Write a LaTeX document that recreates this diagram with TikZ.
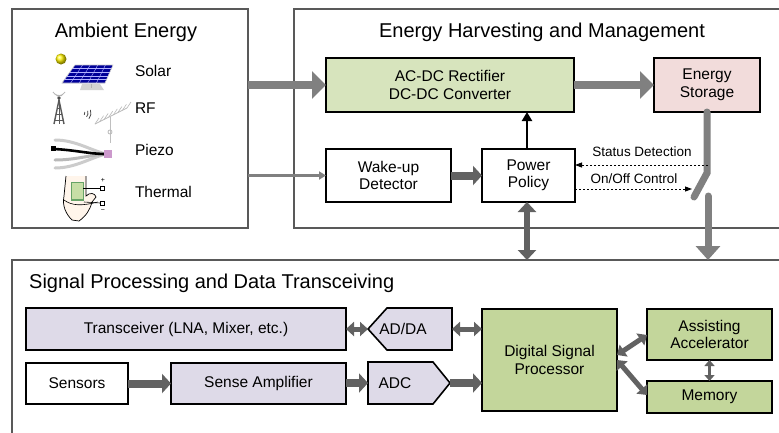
\documentclass[tikz,border=0pt]{standalone}
\usepackage{fontspec}
\setmainfont{Liberation Sans}
\usetikzlibrary{arrows.meta,calc}
\definecolor{cont}{HTML}{595959}
\definecolor{lgray}{HTML}{808080}
\definecolor{dgray}{HTML}{626262}
\definecolor{gA}{HTML}{D7E4BD}
\definecolor{gB}{HTML}{C3D69B}
\definecolor{pinkS}{HTML}{F2DCDB}
\definecolor{purp}{HTML}{DEDAE8}
\tikzset{
  container/.style={draw=cont, line width=1.8pt, inner sep=0pt, outer sep=0pt},
  blk/.style={draw=black, line width=1.6pt, inner sep=0pt, outer sep=0pt, align=center, font=\fontsize{15.5}{17.5}\selectfont},
  plainlbl/.style={inner sep=0pt, outer sep=0pt, font=\fontsize{15.5}{17.5}\selectfont},
  title/.style={inner sep=0pt, font=\fontsize{20}{22}\selectfont},
  small/.style={inner sep=0pt, font=\fontsize{13.5}{15}\selectfont},
  bigarrow/.style={draw=lgray, line width=8pt, -{Triangle[length=14pt,width=27pt]}},
  midarrow/.style={draw=dgray, line width=8pt, -{Triangle[length=9pt,width=19pt]}},
  dblarrow/.style={draw=dgray, line width=5pt, {Triangle[length=8pt,width=14pt]}-{Triangle[length=8pt,width=14pt]}},
  dashline/.style={draw=black, line width=0.9pt, dashed, dash pattern=on 2pt off 2pt, -{Triangle[length=7pt,width=5pt]}},
}
\begin{document}
\begin{tikzpicture}[x=1pt,y=-1pt]
\useasboundingbox (0,0) rectangle (779,432);
\clip (0,0) rectangle (779,432);
\fill[white] (0,0) rectangle (779,432);

% containers
\node[container, minimum width=236, minimum height=219] (ambient) at (130,118.5) {};
\node[container, minimum width=516, minimum height=219] (harv) at (552,118.5) {};
\node[container, minimum width=798, minimum height=200] (sig) at (411,360) {};

% titles
\node[title] (tA) at (126,32) {Ambient Energy};
\node[title] (tH) at (542,32) {Energy Harvesting and Management};
\node[title, anchor=west] (tS) at (29,283) {Signal Processing and Data Transceiving};

% ambient labels
\node[plainlbl, anchor=west] (solar) at (135,71) {Solar};
\node[plainlbl, anchor=west] (rf) at (135,108) {RF};
\node[plainlbl, anchor=west] (piezo) at (135,150) {Piezo};
\node[plainlbl, anchor=west] (thermal) at (135,192) {Thermal};

% solar icon
\shade[ball color=yellow!90!orange] (61,59) circle (5.5);
\fill[gray!35] (82,84) -- (100,84) -- (104,90) -- (80,90) -- cycle;
\draw[gray!60, line width=1pt] (91,84) -- (91,88);
\fill[blue!60!black] (75,65) -- (113,65) -- (105,83) -- (62,83) -- cycle;
\foreach \t in {0.2,0.4,0.6,0.8}{
  \draw[blue!30, line width=0.4pt] ($(75,65)!\t!(113,65)$) -- ($(62,83)!\t!(105,83)$);
  \draw[blue!30, line width=0.4pt] ($(75,65)!\t!(62,83)$) -- ($(113,65)!\t!(105,83)$);
}
\draw[gray!40, line width=0.6pt] (75,65) -- (113,65) -- (105,83) -- (62,83) -- cycle;

% RF icon
\draw[gray!70!black, line width=1.4pt] (54,124) -- (59,100) -- (64,124);
\draw[gray!70!black, line width=0.8pt] (56,114) -- (62,114) (57,108) -- (61,108) (55,120) -- (63,120) (59,100) -- (59,124);
\fill[gray!60!black] (59,98) circle (1.8);
\draw[gray!60, line width=0.8pt] (55,94) arc (150:30:4.6) (53,92) arc (150:30:7);
\foreach \r in {3,6,9}{\draw[gray!60!black, line width=0.8pt] (82,113) ++(-20:\r) arc (-20:40:\r);}
\draw[gray!55, line width=0.8pt] (95,124) -- (127,108);
\foreach \i in {0,...,7}{\draw[gray!55, line width=0.6pt] ($(95,124)!\i/7!(127,108)$) -- ++(4,-6);}
\draw[gray!50, line width=1pt] (110,117) -- (110,143);
\draw[gray!55, line width=0.8pt] (110,132) circle (2);

% piezo icon
\draw[gray!40, line width=3pt, line cap=round] (55,140) .. controls (75,140) and (90,150) .. (106,154);
\draw[gray!40, line width=3pt, line cap=round] (55,168) .. controls (75,168) and (90,158) .. (106,154);
\draw[gray!55, line width=3pt, line cap=round] (55,160) .. controls (75,160) and (90,155) .. (106,154);
\draw[black, line width=2.6pt] (54,149) .. controls (75,150) and (90,154) .. (106,154);
\fill[black] (51,146) rectangle (56,151);
\fill[violet!40] (104,150) rectangle (112,158);

% thermal icon
\draw[black, line width=0.7pt, fill=orange!8] (66,176) -- (64,196) .. controls (62,206) and (66,214) .. (72,220) -- (79,221) .. controls (86,216) and (90,210) .. (92,202) -- (96,197) .. controls (95,193) and (90,192) .. (86,196) -- (86,176);
\draw[black, line width=0.6pt] (64,200) .. controls (72,206) and (82,206) .. (98,202);
\fill[green!40!black!60] (71,182) rectangle (84,201);
\fill[green!25!olive!35] (72,183) rectangle (83,199);
\draw[black, line width=0.6pt] (83,188) -- (100,188);
\draw[black, line width=0.6pt] (100,186) rectangle (104,190);
\draw[black, line width=0.6pt] (84,202) -- (100,203);
\draw[black, line width=0.6pt] (100,201) rectangle (104,205);
\node[inner sep=0pt, font=\fontsize{7}{7}\selectfont] (plus) at (103,180) {+};
\node[inner sep=0pt, font=\fontsize{7}{7}\selectfont] (minus) at (103,211) {\textminus};

% harvesting blocks
\node[blk, fill=gA, minimum width=248, minimum height=54] (acdc) at (450,85) {AC-DC Rectifier\\DC-DC Converter};
\node[blk, fill=pinkS, minimum width=106, minimum height=54] (stor) at (707,85) {Energy\\Storage};
\node[blk, fill=white, minimum width=125, minimum height=53] (wake) at (388.5,175.5) {Wake-up\\Detector};
\node[blk, fill=white, minimum width=93, minimum height=53] (pp) at (528.5,175.5) {Power\\Policy};

% harvesting connectors
\draw[bigarrow] (ambient.east |- acdc) -- (acdc.west);
\draw[bigarrow] (acdc.east) -- (stor.west);
\draw[draw=lgray, line width=2.6pt, -{Triangle[length=7pt,width=8pt]}] (ambient.east |- wake) -- (wake.west);
\draw[midarrow, draw=dgray] (wake.east) -- (pp.west);
\coordinate (ppn) at ($(pp.north)+(-1.5,0)$);
\draw[draw=black, line width=2.6pt, -{Triangle[length=9pt,width=10pt]}] (ppn) -- (ppn |- acdc.south);
\coordinate (ppd) at ($(pp.south)+(-1.5,0)$);
\draw[draw=dgray, line width=6.5pt, {Triangle[length=10pt,width=18pt]}-{Triangle[length=10pt,width=18pt]}] (ppd) -- (ppd |- sig.north);

% storage switch
\coordinate (sw1) at (707,173);
\coordinate (sw2) at (694,197);
\coordinate (sw3) at (708,196);
\draw[draw=lgray, line width=7pt, line cap=round] (stor.south) -- (sw1) -- (sw2);
\draw[draw=lgray, line width=7pt, line cap=round] (sw3) -- ($(sw3 |- sig.north)+(0,-12)$);
\draw[draw=lgray, line width=7pt, -{Triangle[length=14pt,width=24pt]}] ($(sw3 |- sig.north)+(0,-14)$) -- (sw3 |- sig.north);
\coordinate (sdet) at (708,165);
\coordinate (onoff) at (692,189);
\draw[dashline] (sdet) -- (sdet -| pp.east);
\draw[dashline] (onoff -| pp.east) -- (onoff);
\node[small] (lsd) at (642,152) {Status Detection};
\node[small] (loo) at (634,179) {On/Off Control};

% signal processing blocks
\node[blk, fill=purp, minimum width=320, minimum height=42] (trans) at (186,329) {Transceiver (LNA, Mixer, etc.)};
\node[blk, fill=white, minimum width=102, minimum height=41] (sens) at (77,383.5) {Sensors};
\node[blk, fill=purp, minimum width=175, minimum height=41] (samp) at (258.5,383.5) {Sense Amplifier};
\node[inner sep=0pt, outer sep=0pt, minimum width=84, minimum height=42] (adda) at (410,329) {};
\draw[blk, fill=purp] (adda.north east) -- (adda.south east) -- ([xshift=19pt]adda.south west) -- (adda.west) -- ([xshift=19pt]adda.north west) -- cycle;
\node[plainlbl] (addat) at (403,329) {AD/DA};
\node[inner sep=0pt, outer sep=0pt, minimum width=82, minimum height=42] (adc) at (409,383) {};
\draw[blk, fill=purp] (adc.north west) -- ([xshift=-17pt]adc.north east) -- (adc.east) -- ([xshift=-17pt]adc.south east) -- (adc.south west) -- cycle;
\node[plainlbl] (adct) at (395,383) {ADC};
\node[blk, fill=gB, minimum width=135, minimum height=102] (dsp) at (549.5,360) {Digital Signal\\Processor};
\node[blk, fill=gB, minimum width=125, minimum height=51] (acc) at (709.5,334.5) {Assisting\\Accelerator};
\node[blk, fill=gB, minimum width=125, minimum height=32] (mem) at (709.5,397) {Memory};

% signal processing connectors
\draw[midarrow] (sens.east) -- (sens.east -| samp.west);
\draw[midarrow] (samp.east |- adc) -- (adc.west);
\draw[midarrow] (adc.east) -- (adc.east -| dsp.west);
\draw[dblarrow] (trans.east) -- (adda.west);
\draw[dblarrow] (adda.east) -- (adda.east -| dsp.west);
\draw[dblarrow] ($(dsp.east)+(0,-5)$) -- ($(acc.west)+(0,0.5)$);
\draw[dblarrow] ($(dsp.east)+(0,0)$) -- ($(mem.west)+(0,-2)$);
\draw[draw=dgray, line width=3.5pt, {Triangle[length=6pt,width=10pt]}-{Triangle[length=6pt,width=10pt]}] (acc.south) -- (mem.north);
\end{tikzpicture}
\end{document}
